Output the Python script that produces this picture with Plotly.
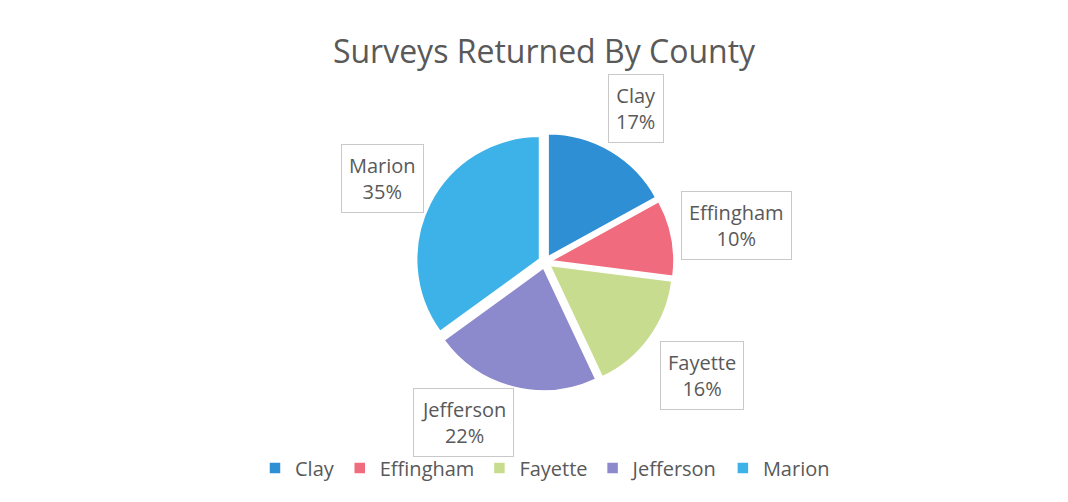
import math
import plotly.graph_objects as go

counties = ["Clay", "Effingham", "Fayette", "Jefferson", "Marion"]
percents = [17, 10, 16, 22, 35]
colors = ["#2F8FD5", "#F06B7D", "#C8DC90", "#8C89CC", "#3DB2E8"]

W, H = 1068, 502
CX, CY, R = 545, 262, 129
PULL = 0.05
EDGE_R = 140          # distance from pie centre to nearest box edge
LBL_FS = 20
PAD = 7
FONT = "Open Sans"
GREY = "#595959"
# small manual nudges (px) for label boxes, as in the original layout
NUDGE = {"Jefferson": (-38, -8)}

fig = go.Figure()
fig.add_trace(go.Pie(
    labels=counties,
    values=percents,
    sort=False,
    direction="clockwise",
    rotation=0,
    pull=[PULL] * len(counties),
    marker=dict(colors=colors, line=dict(color="white", width=1.5)),
    textinfo="none",
    hoverinfo="label+percent",
    domain=dict(x=[(CX - R) / W, (CX + R) / W],
                y=[(H - CY - R) / H, (H - CY + R) / H]),
))

# data labels placed along each slice's mid-angle, boxes kept clear of the pie
total = sum(percents)
cum = 0
annotations = []
for name, v in zip(counties, percents):
    mid = (cum + v / 2) / total * 2 * math.pi
    cum += v
    pct = f"{round(v / total * 100)}%"
    hw = max(len(name), len(pct)) * 0.52 * LBL_FS / 2 + PAD
    hh = 1.3 * LBL_FS + PAD
    s, c = abs(math.sin(mid)), abs(math.cos(mid))
    ext = min(hw / s if s > 1e-6 else 1e9, hh / c if c > 1e-6 else 1e9)
    dist = EDGE_R + ext
    dx, dy = NUDGE.get(name, (0, 0))
    px = CX + dist * math.sin(mid) + dx
    py = CY - dist * math.cos(mid) + dy
    annotations.append(dict(
        x=px / W, y=1 - py / H, xref="paper", yref="paper",
        xanchor="center", yanchor="middle",
        text=f"{name}<br>{pct}",
        showarrow=False, align="center",
        font=dict(family=FONT, size=LBL_FS, color=GREY),
        bordercolor="#C9C9C9", borderwidth=1, borderpad=PAD,
        bgcolor="rgba(255,255,255,0)",
    ))

fig.update_layout(
    width=W, height=H,
    margin=dict(l=0, r=0, t=0, b=0),
    paper_bgcolor="white", plot_bgcolor="white",
    title=dict(text="Surveys Returned By County", x=544 / W, xanchor="center",
               y=1 - 52 / H, yanchor="middle", yref="paper",
               font=dict(family=FONT, size=32, color=GREY)),
    showlegend=True,
    legend=dict(orientation="h", x=545 / W, xanchor="center",
                y=1 - 468 / H, yanchor="middle",
                font=dict(family=FONT, size=20, color=GREY),
                itemwidth=30, traceorder="normal"),
    annotations=annotations,
)

fig.write_html("out.html")
